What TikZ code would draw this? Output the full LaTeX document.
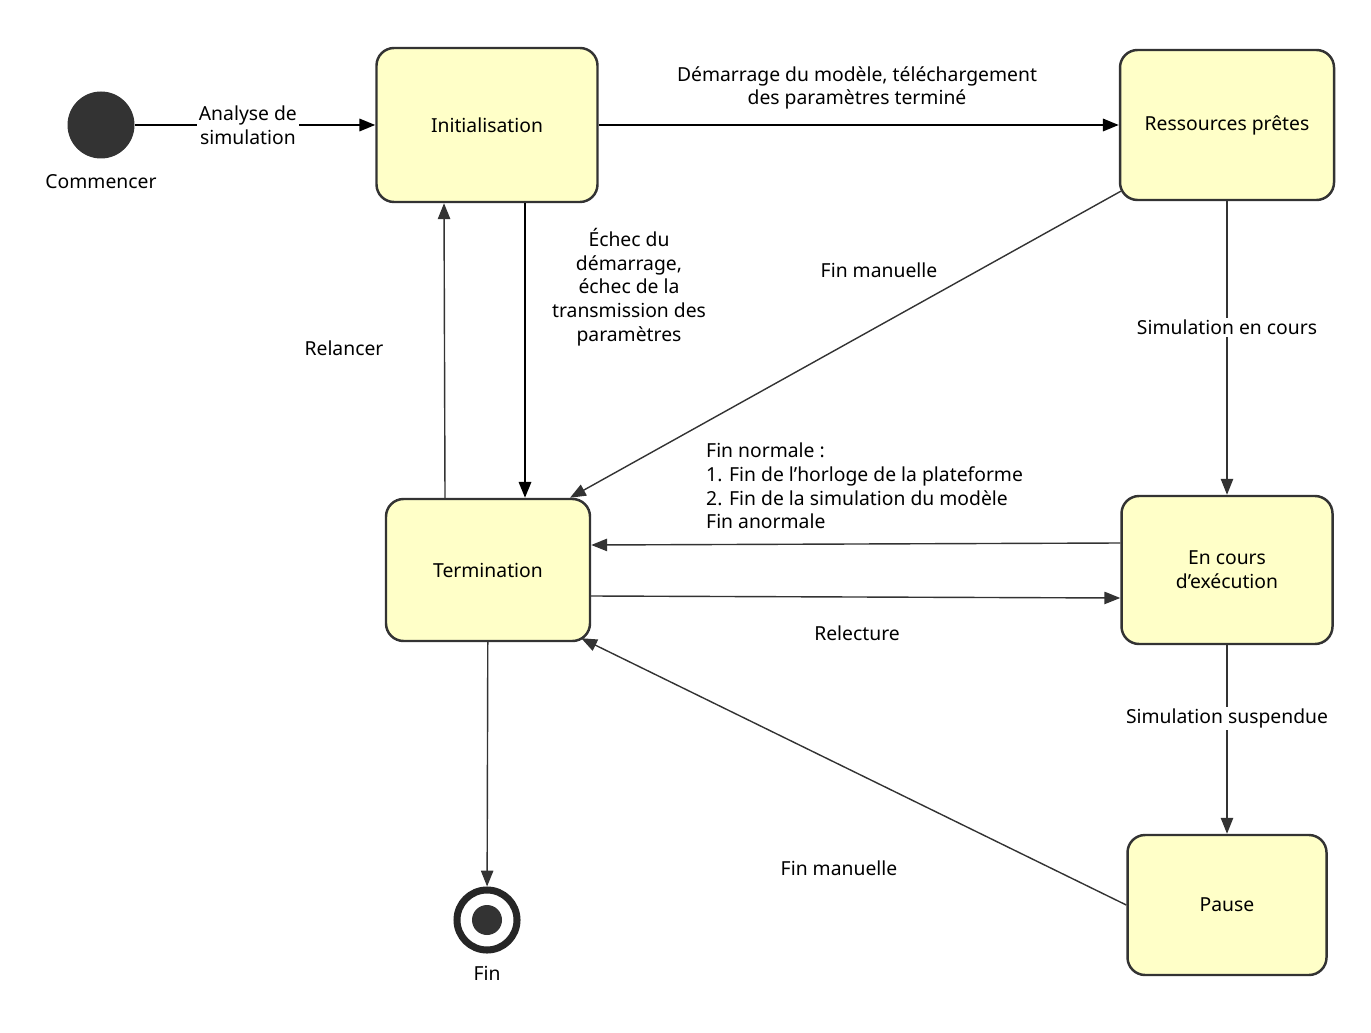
\documentclass[tikz,border=0pt]{standalone}
\usepackage{fontspec}
\setmainfont{Noto Sans}
\usetikzlibrary{arrows.meta}
\definecolor{statefill}{HTML}{FFFFC8}
\definecolor{dark}{HTML}{333333}
\tikzset{
  state/.style={draw=dark, line width=1.4pt, fill=statefill, rounded corners=10pt, align=center},
  flow/.style={draw=dark, line width=0.8pt, -{Triangle[length=9pt,width=7pt]}},
  bold flow/.style={flow, draw=black, line width=1.3pt},
  lbl/.style={align=center, fill=white, inner sep=1pt},
}
\begin{document}
\begin{tikzpicture}[x=0.02cm, y=-0.02cm, font=\fontsize{11}{13.5}\selectfont]
    \useasboundingbox (0,0) rectangle (1371,1033);

    % States
    \node[state, minimum width=221*0.02cm, minimum height=154*0.02cm] (init) at (487,125) {Initialisation};
    \node[state, minimum width=214*0.02cm, minimum height=150*0.02cm] (ready) at (1227,125) {Ressources prêtes};
    \node[state, minimum width=204*0.02cm, minimum height=142*0.02cm] (term) at (488,570) {Termination};
    \node[state, minimum width=211*0.02cm, minimum height=148*0.02cm] (run) at (1227,570) {En cours\\d'exécution};
    \node[state, minimum width=199*0.02cm, minimum height=140*0.02cm] (pause) at (1227,905) {Pause};

    % Start and end
    \node[circle, fill=dark, minimum size=67*0.02cm, inner sep=0pt] (start) at (101,125) {};
    \node at (101,182) {Commencer};
    \node[circle, draw=black!85, line width=4pt, fill=white, minimum size=60*0.02cm, inner sep=0pt] (stop) at (487,920) {};
    \node[circle, fill=dark, minimum size=30*0.02cm, inner sep=0pt] at (stop) {};
    \node at (487,973) {Fin};

    % Transitions
    \draw[bold flow] (start) -- (init) node[lbl, pos=0.47] {Analyse de\\simulation};
    \draw[bold flow] (init) -- (ready);
    \node[align=center] (lstart) at (857,88) {Démarrage du modèle, téléchargement\\des paramètres terminé};
    \draw[bold flow] ([xshift=38*0.02cm]init.south) -- ([xshift=37*0.02cm]term.north);
    \node[align=center] (lfail) at (629,287) {Échec du\\démarrage,\\échec de la\\transmission des\\paramètres};
    \draw[flow] ([xshift=-43*0.02cm]term.north) -- ([xshift=-43*0.02cm]init.south);
    \node (lrestart) at (344,348) {Relancer};
    \draw[flow] ([xshift=2*0.02cm,yshift=10*0.02cm]ready.south west) -- ([xshift=82*0.02cm]term.north);
    \node (lman1) at (879,270) {Fin manuelle};
    \draw[flow] (ready) -- (run) node[lbl, pos=0.43] {Simulation en cours};
    \draw[flow] ([yshift=27*0.02cm]run.west) -- ([yshift=25*0.02cm]term.east);
    \node[align=left, anchor=west] (lend) at (700,486) {Fin normale :\\1. Fin de l'horloge de la plateforme\\2. Fin de la simulation du modèle\\Fin anormale};
    \draw[flow] ([yshift=-26*0.02cm]term.east) -- ([yshift=-28*0.02cm]run.west);
    \node (lreview) at (857,633) {Relecture};
    \draw[flow] (run) -- (pause) node[lbl, pos=0.39] {Simulation suspendue};
    \draw[flow] (pause.west) -- ([xshift=-10*0.02cm,yshift=4*0.02cm]term.south east);
    \node (lman2) at (839,868) {Fin manuelle};
    \draw[flow] (term) -- (stop);
\end{tikzpicture}
\end{document}
